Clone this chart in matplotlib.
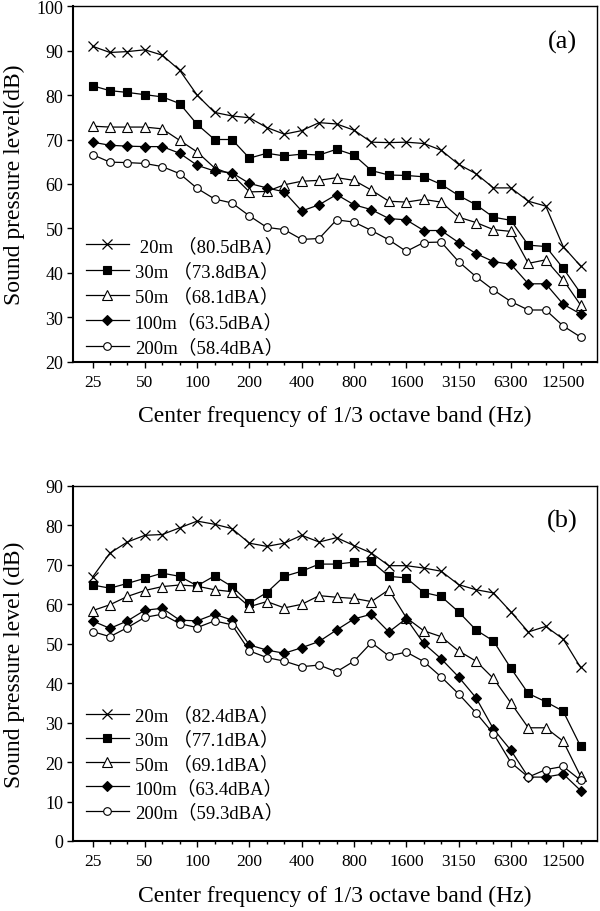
import matplotlib
matplotlib.use('Agg')
import matplotlib.pyplot as plt
from matplotlib.ticker import FixedLocator, FixedFormatter, NullFormatter

plt.rcParams['font.family'] = ['Liberation Serif', 'Noto Sans CJK SC']

bands = ['25', '31.5', '40', '50', '63', '80', '100', '125', '160', '200', '250', '315',
         '400', '500', '630', '800', '1000', '1250', '1600', '2000', '2500', '3150',
         '4000', '5000', '6300', '8000', '10000', '12500', '16000']
shown_labels = ['25', '50', '100', '200', '400', '800', '1600', '3150', '6300', '12500']

# Panel (a)
a20 = [91.0, 89.6, 89.8, 90.2, 89.0, 85.6, 80.0, 76.1, 75.3, 74.9, 72.7, 71.2, 72.0, 73.8, 73.5,
       72.1, 69.4, 69.3, 69.4, 69.1, 67.6, 64.4, 62.3, 59.1, 59.1, 56.1, 55.0, 45.9, 41.5]
a30 = [82.1, 81.0, 80.6, 80.1, 79.6, 78.1, 73.4, 70.0, 70.0, 65.8, 66.9, 66.3, 66.7, 66.5, 67.8,
       66.5, 63.0, 62.0, 61.9, 61.6, 59.9, 57.4, 55.3, 52.5, 51.8, 46.2, 45.9, 41.0, 35.4]
a50 = [73.0, 72.8, 72.8, 72.8, 72.4, 69.8, 67.2, 63.6, 62.1, 58.2, 58.3, 59.8, 60.6, 60.8, 61.4,
       60.8, 58.6, 56.1, 55.9, 56.5, 55.9, 52.5, 51.3, 49.7, 49.3, 42.1, 42.9, 38.4, 32.7]
a100 = [69.4, 68.7, 68.5, 68.4, 68.4, 66.9, 64.2, 62.9, 62.5, 60.1, 59.1, 58.2, 53.9, 55.3, 57.6,
        55.3, 54.2, 52.2, 51.9, 49.5, 49.5, 46.8, 44.3, 42.5, 41.9, 37.5, 37.5, 32.9, 30.7]
a200 = [66.6, 64.9, 64.8, 64.6, 63.9, 62.3, 59.0, 56.6, 55.7, 52.8, 50.2, 49.7, 47.5, 47.7, 51.9,
        51.4, 49.5, 47.4, 44.8, 46.8, 46.9, 42.5, 39.1, 36.1, 33.5, 31.6, 31.6, 28.0, 25.5]
labels_a = [' 20m （80.5dBA）', '30m （73.8dBA）', '50m （68.1dBA）', '100m（63.5dBA）', '200m（58.4dBA）']

# Panel (b)
b20 = [66.9, 73.0, 75.8, 77.5, 77.7, 79.4, 81.1, 80.3, 79.2, 75.5, 74.7, 75.5, 77.5, 75.8, 76.9,
       74.9, 73.0, 69.8, 69.8, 69.2, 68.4, 65.0, 63.7, 62.9, 58.1, 53.0, 54.4, 51.2, 44.0]
b30 = [64.9, 64.1, 65.3, 66.6, 67.9, 67.1, 64.7, 67.2, 64.5, 60.3, 63.0, 67.1, 68.4, 70.2, 70.2,
       70.7, 70.9, 67.1, 66.7, 63.0, 62.0, 58.1, 53.5, 50.7, 43.8, 37.4, 35.3, 32.9, 24.0]
b50 = [58.4, 59.9, 62.0, 63.5, 64.5, 64.9, 64.6, 63.7, 63.2, 59.4, 60.7, 59.1, 60.0, 62.2, 61.8,
       61.5, 60.7, 63.7, 56.6, 53.3, 51.8, 48.2, 45.6, 41.2, 35.0, 28.7, 28.7, 25.3, 16.4]
b100 = [55.8, 53.9, 55.8, 58.5, 59.0, 56.0, 55.8, 57.5, 56.0, 49.7, 48.4, 47.6, 49.0, 50.6, 53.5,
        56.3, 57.5, 53.0, 56.4, 50.1, 46.2, 41.6, 36.3, 28.4, 23.0, 16.2, 16.2, 17.0, 12.8]
b200 = [53.1, 51.8, 54.1, 56.7, 57.5, 55.1, 54.1, 55.8, 54.8, 48.2, 46.5, 45.6, 44.2, 44.6, 42.9,
        45.6, 50.3, 46.9, 47.9, 45.5, 41.6, 37.3, 32.5, 27.2, 19.9, 16.2, 18.1, 18.9, 15.4]
labels_b = ['20m （82.4dBA）', '30m （77.1dBA）', '50m （69.1dBA）', '100m（63.4dBA）', '200m（59.3dBA）']

styles = [dict(marker='x', ms=7, mfc='black', mew=0.9),
          dict(marker='s', ms=5.2, mfc='black', mew=0.8),
          dict(marker='^', ms=6.5, mfc='white', mew=0.8),
          dict(marker='D', ms=5, mfc='black', mew=0.8),
          dict(marker='o', ms=5.5, mfc='white', mew=0.8)]

fig = plt.figure(figsize=(6.0, 9.12), dpi=100)
L, R = 73 / 600, 597 / 600
H = 912
axa = fig.add_axes([L, 1 - 362.5 / H, R - L, (362.5 - 7.3) / H])
axb = fig.add_axes([L, 1 - 842 / H, R - L, (842 - 487) / H])

x = list(range(len(bands)))
major_idx = [bands.index(t) for t in shown_labels]


def draw(ax, series, labels, ylim, yticks, ylabel, tag, leg_top, leg_spacing):
    for s, lab, st in zip(series, labels, styles):
        ax.plot(x, s, color='black', lw=0.9, mec='black', label=lab, **st)
    ax.set_xlim(-1.12, 28.94)
    ax.set_ylim(*ylim)
    ax.set_yticks(yticks)
    ax.xaxis.set_major_locator(FixedLocator(major_idx))
    ax.xaxis.set_major_formatter(FixedFormatter(shown_labels))
    ax.xaxis.set_minor_locator(FixedLocator([i for i in x if i not in major_idx]))
    ax.xaxis.set_minor_formatter(NullFormatter())
    ax.tick_params(axis='x', which='major', direction='out', length=4, width=1, pad=5, labelsize=12.5)
    ax.tick_params(axis='x', which='minor', direction='out', length=2.5, width=1)
    ax.tick_params(axis='y', which='major', direction='out', length=4.5, width=1, pad=2.5, labelsize=13)
    ax.tick_params(top=False, right=False)
    for sp in ['left', 'bottom']:
        ax.spines[sp].set_linewidth(1.5)
    for sp in ['top', 'right']:
        ax.spines[sp].set_linewidth(1.0)
    ax.set_ylabel(ylabel, fontsize=17)
    ax.yaxis.label.set_va('center')
    ax.yaxis.set_label_coords(-0.1126, 0.5)
    ax.set_xlabel('Center frequency of 1/3 octave band (Hz)', fontsize=17)
    ax.xaxis.label.set_va('center')
    ax.xaxis.set_label_coords(0.5, -0.152)
    ax.text(0.934, 0.902, tag, transform=ax.transAxes, fontsize=19, ha='center', va='center')
    ax.legend(loc='upper left', bbox_to_anchor=(0.0103, leg_top), frameon=False, fontsize=13.5,
              handlelength=2.3, handletextpad=0.3, labelspacing=leg_spacing, borderaxespad=0.0)


draw(axa, [a20, a30, a50, a100, a200], labels_a, (20, 100), range(20, 101, 10),
     'Sound pressure level(dB)', '(a)', 0.3716, 0.40)
draw(axb, [b20, b30, b50, b100, b200], labels_b, (0, 90), range(0, 91, 10),
     'Sound pressure level (dB)', '(b)', 0.3994, 0.336)

fig.savefig('out.png', dpi=100)
